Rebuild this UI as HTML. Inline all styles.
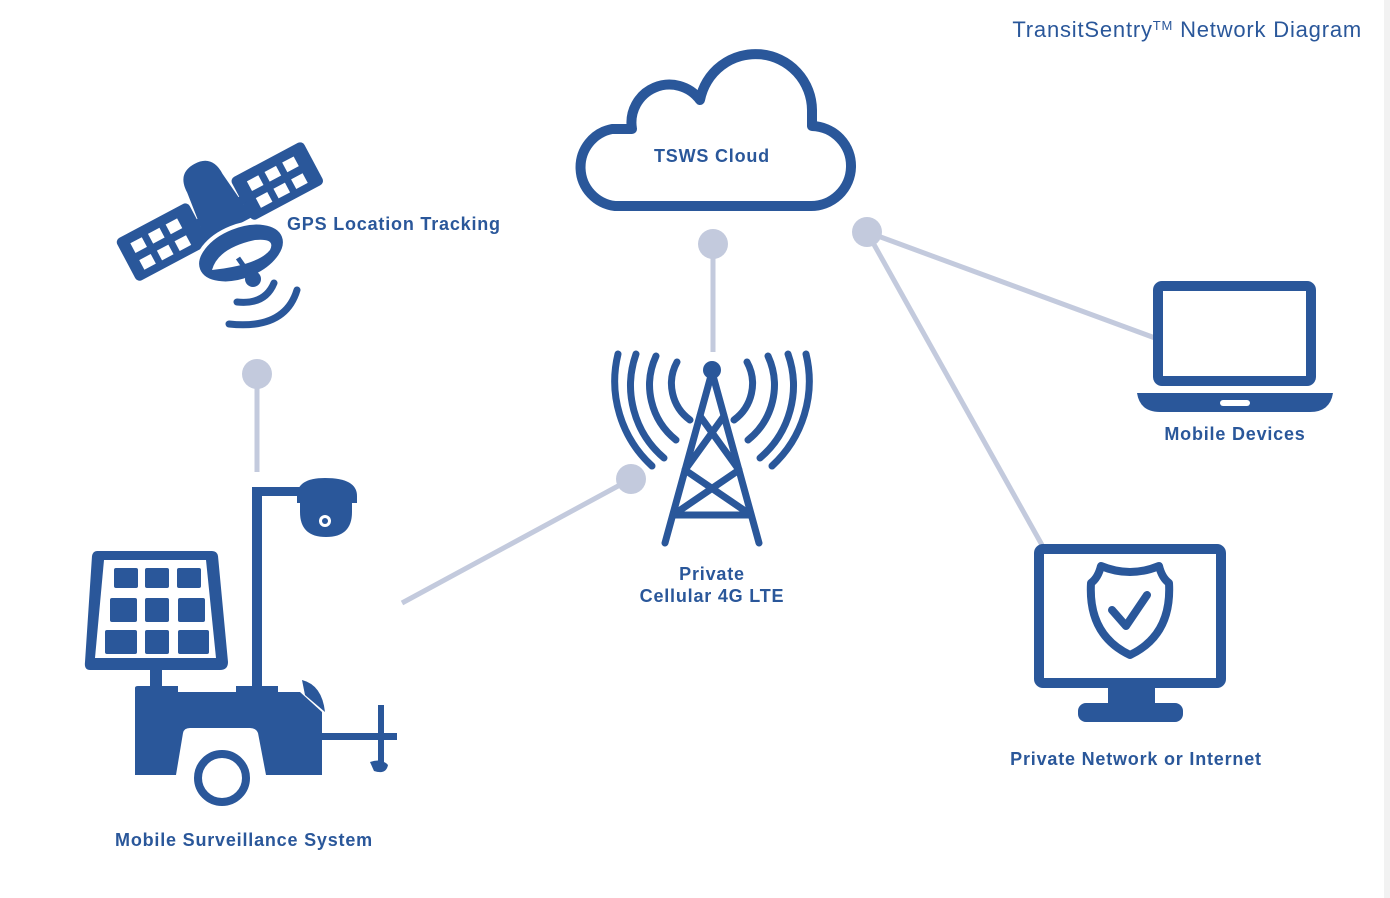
<!DOCTYPE html>
<html><head><style>
body{margin:0;background:#fff;}
svg{display:block;}
text{font-family:"Liberation Sans",sans-serif;fill:#2a579a;}
.b{font-weight:bold;font-size:18px;letter-spacing:0.8px;}
</style></head><body>
<svg width="1390" height="898" viewBox="0 0 1390 898">
<rect x="1384" y="0" width="6" height="898" fill="#f2f2f2"/>
<text x="1362" y="37" text-anchor="end" font-size="22" letter-spacing="0.8">TransitSentry<tspan font-size="13" dy="-7">TM</tspan><tspan dy="7"> Network Diagram</tspan></text>
<g stroke="#c3cadd" stroke-width="5">
<line x1="713" y1="244" x2="713" y2="352"/>
<line x1="867" y1="232" x2="1155" y2="338"/>
<line x1="867" y1="232" x2="1042" y2="545"/>
<line x1="257" y1="374" x2="257" y2="472"/>
<line x1="631" y1="479" x2="402" y2="603"/>
</g>
<g fill="#c3cadd">
<circle cx="713" cy="244" r="15"/><circle cx="867" cy="232" r="15"/>
<circle cx="257" cy="374" r="15"/><circle cx="631" cy="479" r="15"/>
</g>
<!-- cloud -->
<path d="M615 206 A39 39 0 0 1 612 129 H632 A38 38 0 0 1 700 100 A56.5 56.5 0 0 1 812 110 V126 A40 40 0 0 1 810 206 Z" fill="none" stroke="#2a579a" stroke-width="10" stroke-linejoin="round"/>
<text x="712" y="162" text-anchor="middle" class="b">TSWS Cloud</text>
<!-- tower -->
<g stroke="#2a579a" stroke-width="7" fill="none" stroke-linecap="round">
<line x1="712" y1="372" x2="665" y2="543"/><line x1="712" y1="372" x2="759" y2="543"/>
<line x1="700" y1="416" x2="739" y2="470"/><line x1="724" y1="416" x2="685" y2="470"/>
<line x1="685" y1="470" x2="751" y2="515"/><line x1="739" y1="470" x2="673" y2="515"/>
<line x1="673" y1="515" x2="751" y2="515"/>
<path d="M677 362 A45 45 0 0 0 690 420"/><path d="M747 362 A45 45 0 0 1 734 420"/>
<path d="M656 356 A70 70 0 0 0 676 440"/><path d="M768 356 A70 70 0 0 1 748 440"/>
<path d="M636 354 A95 95 0 0 0 664 458"/><path d="M788 354 A95 95 0 0 1 760 458"/>
<path d="M618 354 A115 115 0 0 0 652 466"/><path d="M806 354 A115 115 0 0 1 772 466"/>
</g>
<circle cx="712" cy="370" r="9" fill="#2a579a"/>
<text x="712" y="580" text-anchor="middle" class="b">Private</text>
<text x="712" y="602" text-anchor="middle" class="b">Cellular 4G LTE</text>
<!-- laptop -->
<rect x="1158" y="286" width="153" height="95" rx="4" fill="none" stroke="#2a579a" stroke-width="10"/>
<path d="M1137 393 H1333 Q1330 412 1310 412 H1160 Q1140 412 1137 393 Z" fill="#2a579a"/>
<rect x="1220" y="400" width="30" height="6" rx="3" fill="#fff"/>
<text x="1235" y="440" text-anchor="middle" class="b">Mobile Devices</text>
<!-- monitor -->
<rect x="1039" y="549" width="182" height="134" rx="4" fill="none" stroke="#2a579a" stroke-width="10"/>
<rect x="1108" y="688" width="47" height="16" fill="#2a579a"/>
<rect x="1078" y="703" width="105" height="19" rx="8" fill="#2a579a"/>
<path d="M1101 566 Q1130 578 1159 566 Q1162 578 1169 583 Q1172 635 1130 655 Q1088 635 1091 583 Q1098 578 1101 566 Z" fill="none" stroke="#2a579a" stroke-width="8" stroke-linejoin="round"/>
<path d="M1112 610 L1126 626 L1147 595" fill="none" stroke="#2a579a" stroke-width="8" stroke-linecap="round" stroke-linejoin="round"/>
<text x="1136" y="765" text-anchor="middle" class="b">Private Network or Internet</text>
<!-- satellite -->
<g fill="#2a579a">
<g transform="rotate(-28 218 208)">
<rect x="112" y="188" width="82" height="48" rx="5"/>
<rect x="242" y="188" width="82" height="48" rx="5"/>
<rect x="190" y="208" width="56" height="8"/>
<path d="M198 180 Q198 158 218 158 Q238 158 238 180 L244 232 L192 232 Z"/>
<g fill="#fff">
<rect x="124" y="198" width="13" height="11"/><rect x="144" y="198" width="13" height="11"/><rect x="164" y="198" width="13" height="11"/>
<rect x="124" y="217" width="13" height="11"/><rect x="144" y="217" width="13" height="11"/><rect x="164" y="217" width="13" height="11"/>
<rect x="256" y="198" width="13" height="11"/><rect x="276" y="198" width="13" height="11"/><rect x="296" y="198" width="13" height="11"/>
<rect x="256" y="217" width="13" height="11"/><rect x="276" y="217" width="13" height="11"/><rect x="296" y="217" width="13" height="11"/>
</g>
</g>
<ellipse cx="241" cy="253" rx="46" ry="27" transform="rotate(-22 241 253)" stroke="#fff" stroke-width="4"/>
<path d="M212 270 Q218 248 255 240 Q276 238 270 250 Q258 265 212 270 Z" fill="#fff"/>
<line x1="238" y1="258" x2="252" y2="278" stroke="#2a579a" stroke-width="5"/>
<circle cx="253" cy="279" r="8"/>
</g>
<g fill="none" stroke="#2a579a" stroke-width="7" stroke-linecap="round">
<path d="M237 302 Q265 305 274 283"/>
<path d="M229 324 Q285 330 297 290"/>
</g>
<text x="287" y="230" class="b">GPS Location Tracking</text>
<!-- trailer -->
<g fill="#2a579a">
<path d="M97 551 H212 Q217 551 218 556 L228 662 Q228 670 220 670 H90 Q84 670 85 662 L92 556 Q93 551 97 551 Z"/>
<g fill="#fff"><path d="M104 560 H206 L216 658 H95 Z"/></g>
<rect x="114" y="568" width="24" height="20" rx="2"/><rect x="145" y="568" width="24" height="20" rx="2"/><rect x="177" y="568" width="24" height="20" rx="2"/>
<rect x="110" y="598" width="27" height="24" rx="2"/><rect x="145" y="598" width="24" height="24" rx="2"/><rect x="178" y="598" width="27" height="24" rx="2"/>
<rect x="105" y="630" width="32" height="24" rx="2"/><rect x="145" y="630" width="24" height="24" rx="2"/><rect x="178" y="630" width="31" height="24" rx="2"/>
<rect x="150" y="670" width="12" height="18"/>
<rect x="252" y="487" width="10" height="205"/>
<rect x="252" y="487" width="50" height="9"/>
<path d="M297 496 Q297 478 325 478 Q357 478 357 496 V503 H297 Z"/>
<path d="M300 503 H352 V512 Q352 537 326 537 Q300 537 300 512 Z"/>
<circle cx="325" cy="521" r="6" fill="#fff"/><circle cx="325" cy="521" r="3"/>
<path d="M135 688 Q135 686 138 686 H178 V692 H236 V686 H278 V692 H300 L322 712 V775 H266 L258 733 Q256 728 250 728 H190 Q184 728 183 733 L176 775 H135 Z"/>
<path d="M302 680 Q322 685 325 712 L305 695 Z"/>
<rect x="322" y="733" width="75" height="7"/>
<rect x="378" y="705" width="6" height="60"/>
<path d="M370 762 Q382 758 388 765 Q386 775 374 771 Z"/>
</g>
<circle cx="222" cy="778" r="24" fill="#fff" stroke="#2a579a" stroke-width="8"/>
<text x="244" y="846" text-anchor="middle" class="b">Mobile Surveillance System</text>
</svg>
</body></html>
